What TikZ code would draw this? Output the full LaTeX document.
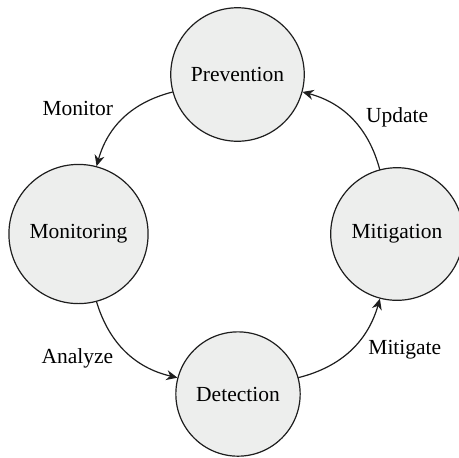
\documentclass[tikz,border=0pt]{standalone}
\usepackage{fontspec}
\setmainfont{Liberation Serif}
\usetikzlibrary{arrows.meta}

\definecolor{stagefill}{RGB}{237,238,237}
\definecolor{stageline}{RGB}{30,30,30}

\begin{document}
\begin{tikzpicture}[x=0.5pt, y=-0.5pt, >=Stealth, line cap=round, line join=round]
		
		%======================
		% STYLES
		%======================
		\tikzset{
			stage/.style={circle, draw=stageline, line width=0.6pt, fill=stagefill, inner sep=8pt,
				font=\fontsize{10.75}{13}\selectfont},
			flow/.style={line width=0.6pt, draw=stageline, -{Stealth[length=5.5pt, width=5pt]}, bend right=30},
			tag/.style={font=\fontsize{10.75}{13}\selectfont, inner sep=3pt}
		}
		
		% fixes the page to the reference size
		\useasboundingbox (0,0) rectangle (459,457);
		
		%======================
		% STAGES
		%======================
		\node[stage] (prevention) at (237.5,74.5) {Prevention};
		\node[stage] (monitoring) at (78.5,234) {Monitoring};
		\node[stage] (detection)  at (238,394)  {Detection};
		\node[stage] (mitigation) at (397,234)  {Mitigation};
		
		%======================
		% CYCLE
		%======================
		\draw[flow] (prevention) to node[tag, midway, anchor=east, xshift=-2pt, yshift=4.5pt] (lmonitor) {Monitor} (monitoring);
		\draw[flow] (monitoring) to node[tag, midway, anchor=east, xshift=-3pt, yshift=-3.5pt] (lanalyze) {Analyze} (detection);
		\draw[flow] (detection) to node[tag, midway, anchor=west, xshift=5.5pt] (lmitigate) {Mitigate} (mitigation);
		\draw[flow] (mitigation) to node[tag, midway, anchor=west, xshift=3.5pt, yshift=1pt] (lupdate) {Update} (prevention);
		
	\end{tikzpicture}
\end{document}
